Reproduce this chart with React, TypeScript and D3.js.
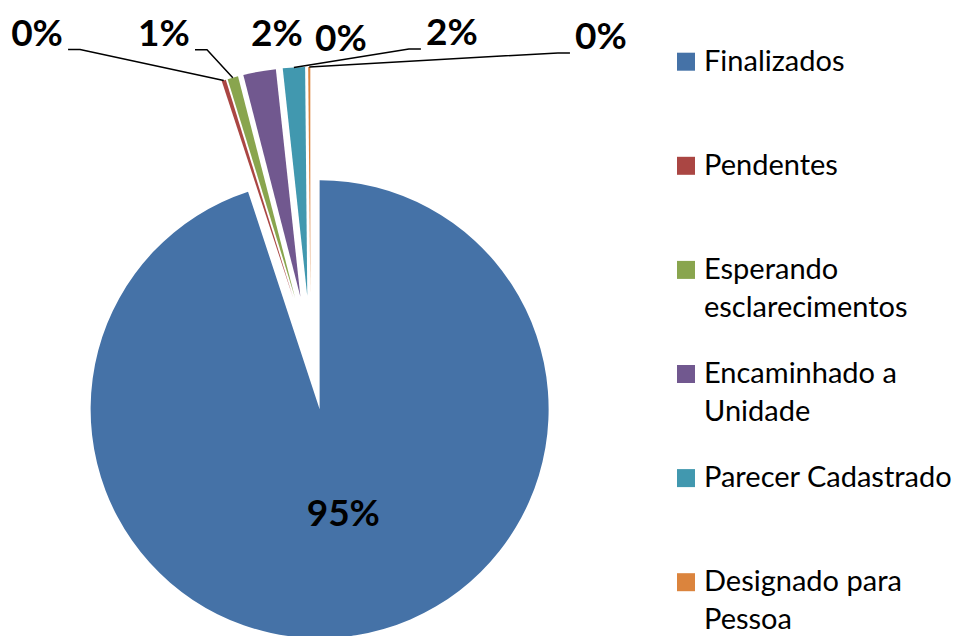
import React from "react";
import * as d3 from "d3";

// ---- data ----
const categories: string[][] = [
  ["Finalizados"],
  ["Pendentes"],
  ["Esperando", "esclarecimentos"],
  ["Encaminhado a", "Unidade"],
  ["Parecer Cadastrado"],
  ["Designado para", "Pessoa"],
];
// percentage shares (7th point is an empty, zero-valued point)
const values: number[] = [94.94, 0.3, 0.75, 2.3, 1.56, 0.15, 0];
const colors: string[] = ["#4572A7", "#AA4643", "#89A54E", "#71588F", "#4198AF", "#DB843D", "#3D96AE"];

// ---- layout ----
const W = 960;
const H = 636;
const CX = 310.6;
const CY = 352.9;
const R = 229;
const EXPLODE = 57;
const FONT = "Lato, 'Open Sans', sans-serif";

// label offsets relative to each slice's outer anchor, plus leader side (0 = none, 1 = label left of slice, -1 = right)
const labelOffsets: [number, number, number][] = [
  [7, 0, 0],
  [-186.7, -48, 1],
  [-68.8, -45, 1],
  [17.5, -39, 0],
  [158, -35.4, -1],
  [291.7, -31, -1],
  [30.4, -29.4, 0],
];

export default function App() {
  const total = d3.sum(values);
  const arcs = d3
    .pie<number>()
    .sort(null)
    .value((d) => d)
    .startAngle(0)
    .endAngle(2 * Math.PI)(values);
  const arcGen = d3.arc<d3.PieArcDatum<number>>().innerRadius(0).outerRadius(R);

  const legendX = 677;
  const legendTop = 52.7;
  const legendStep = 104.1;
  const sq = 18;
  const lineH = 38;

  return (
    <svg
      width={W}
      height={H}
      style={{ position: "absolute", left: 0, top: 0, display: "block", background: "#fff" }}
      fontFamily={FONT}
    >
      {arcs.map((a, i) => {
        const mid = (a.startAngle + a.endAngle) / 2;
        const tx = EXPLODE * Math.sin(mid);
        const ty = -EXPLODE * Math.cos(mid);
        if (a.value <= 0) return null;
        return (
          <path
            key={"s" + i}
            d={arcGen(a) || ""}
            transform={`translate(${CX + tx},${CY + ty})`}
            fill={colors[i]}
          />
        );
      })}
      {arcs.map((a, i) => {
        const mid = (a.startAngle + a.endAngle) / 2;
        const s = Math.sin(mid);
        const c = Math.cos(mid);
        const [dx, dy, side] = labelOffsets[i];
        let ax: number, ay: number;
        if (i === 0) {
          ax = CX + EXPLODE * s + 0.46 * R * s;
          ay = CY - EXPLODE * c - 0.46 * R * c;
        } else {
          ax = CX + (EXPLODE + R) * s;
          ay = CY - (EXPLODE + R) * c;
        }
        const lx = ax + dx;
        const ly = ay + dy;
        const txt = Math.round((a.value / total) * 100) + "%";
        let leader = null;
        if (side !== 0) {
          const sx = lx + side * 31;
          const sy = ly + 17;
          const ex = sx + side * 12;
          leader = (
            <polyline
              points={`${sx},${sy} ${ex},${sy} ${ax},${ay}`}
              fill="none"
              stroke="#000"
              strokeWidth={1.5}
            />
          );
        }
        return (
          <g key={"l" + i}>
            {leader}
            <text
              x={lx}
              y={ly + 13.2}
              textAnchor="middle"
              fontSize={37}
              fontWeight="bold"
              fill="#000"
            >
              {txt}
            </text>
          </g>
        );
      })}
      {categories.map((lines, i) => {
        const top = legendTop + i * legendStep;
        return (
          <g key={"lg" + i}>
            <rect x={legendX} y={top} width={sq} height={sq} fill={colors[i]} />
            {lines.map((t, j) => (
              <text
                key={j}
                x={704}
                y={top + sq + j * lineH}
                fontSize={29}
                fill="#000"
              >
                {t}
              </text>
            ))}
          </g>
        );
      })}
    </svg>
  );
}
